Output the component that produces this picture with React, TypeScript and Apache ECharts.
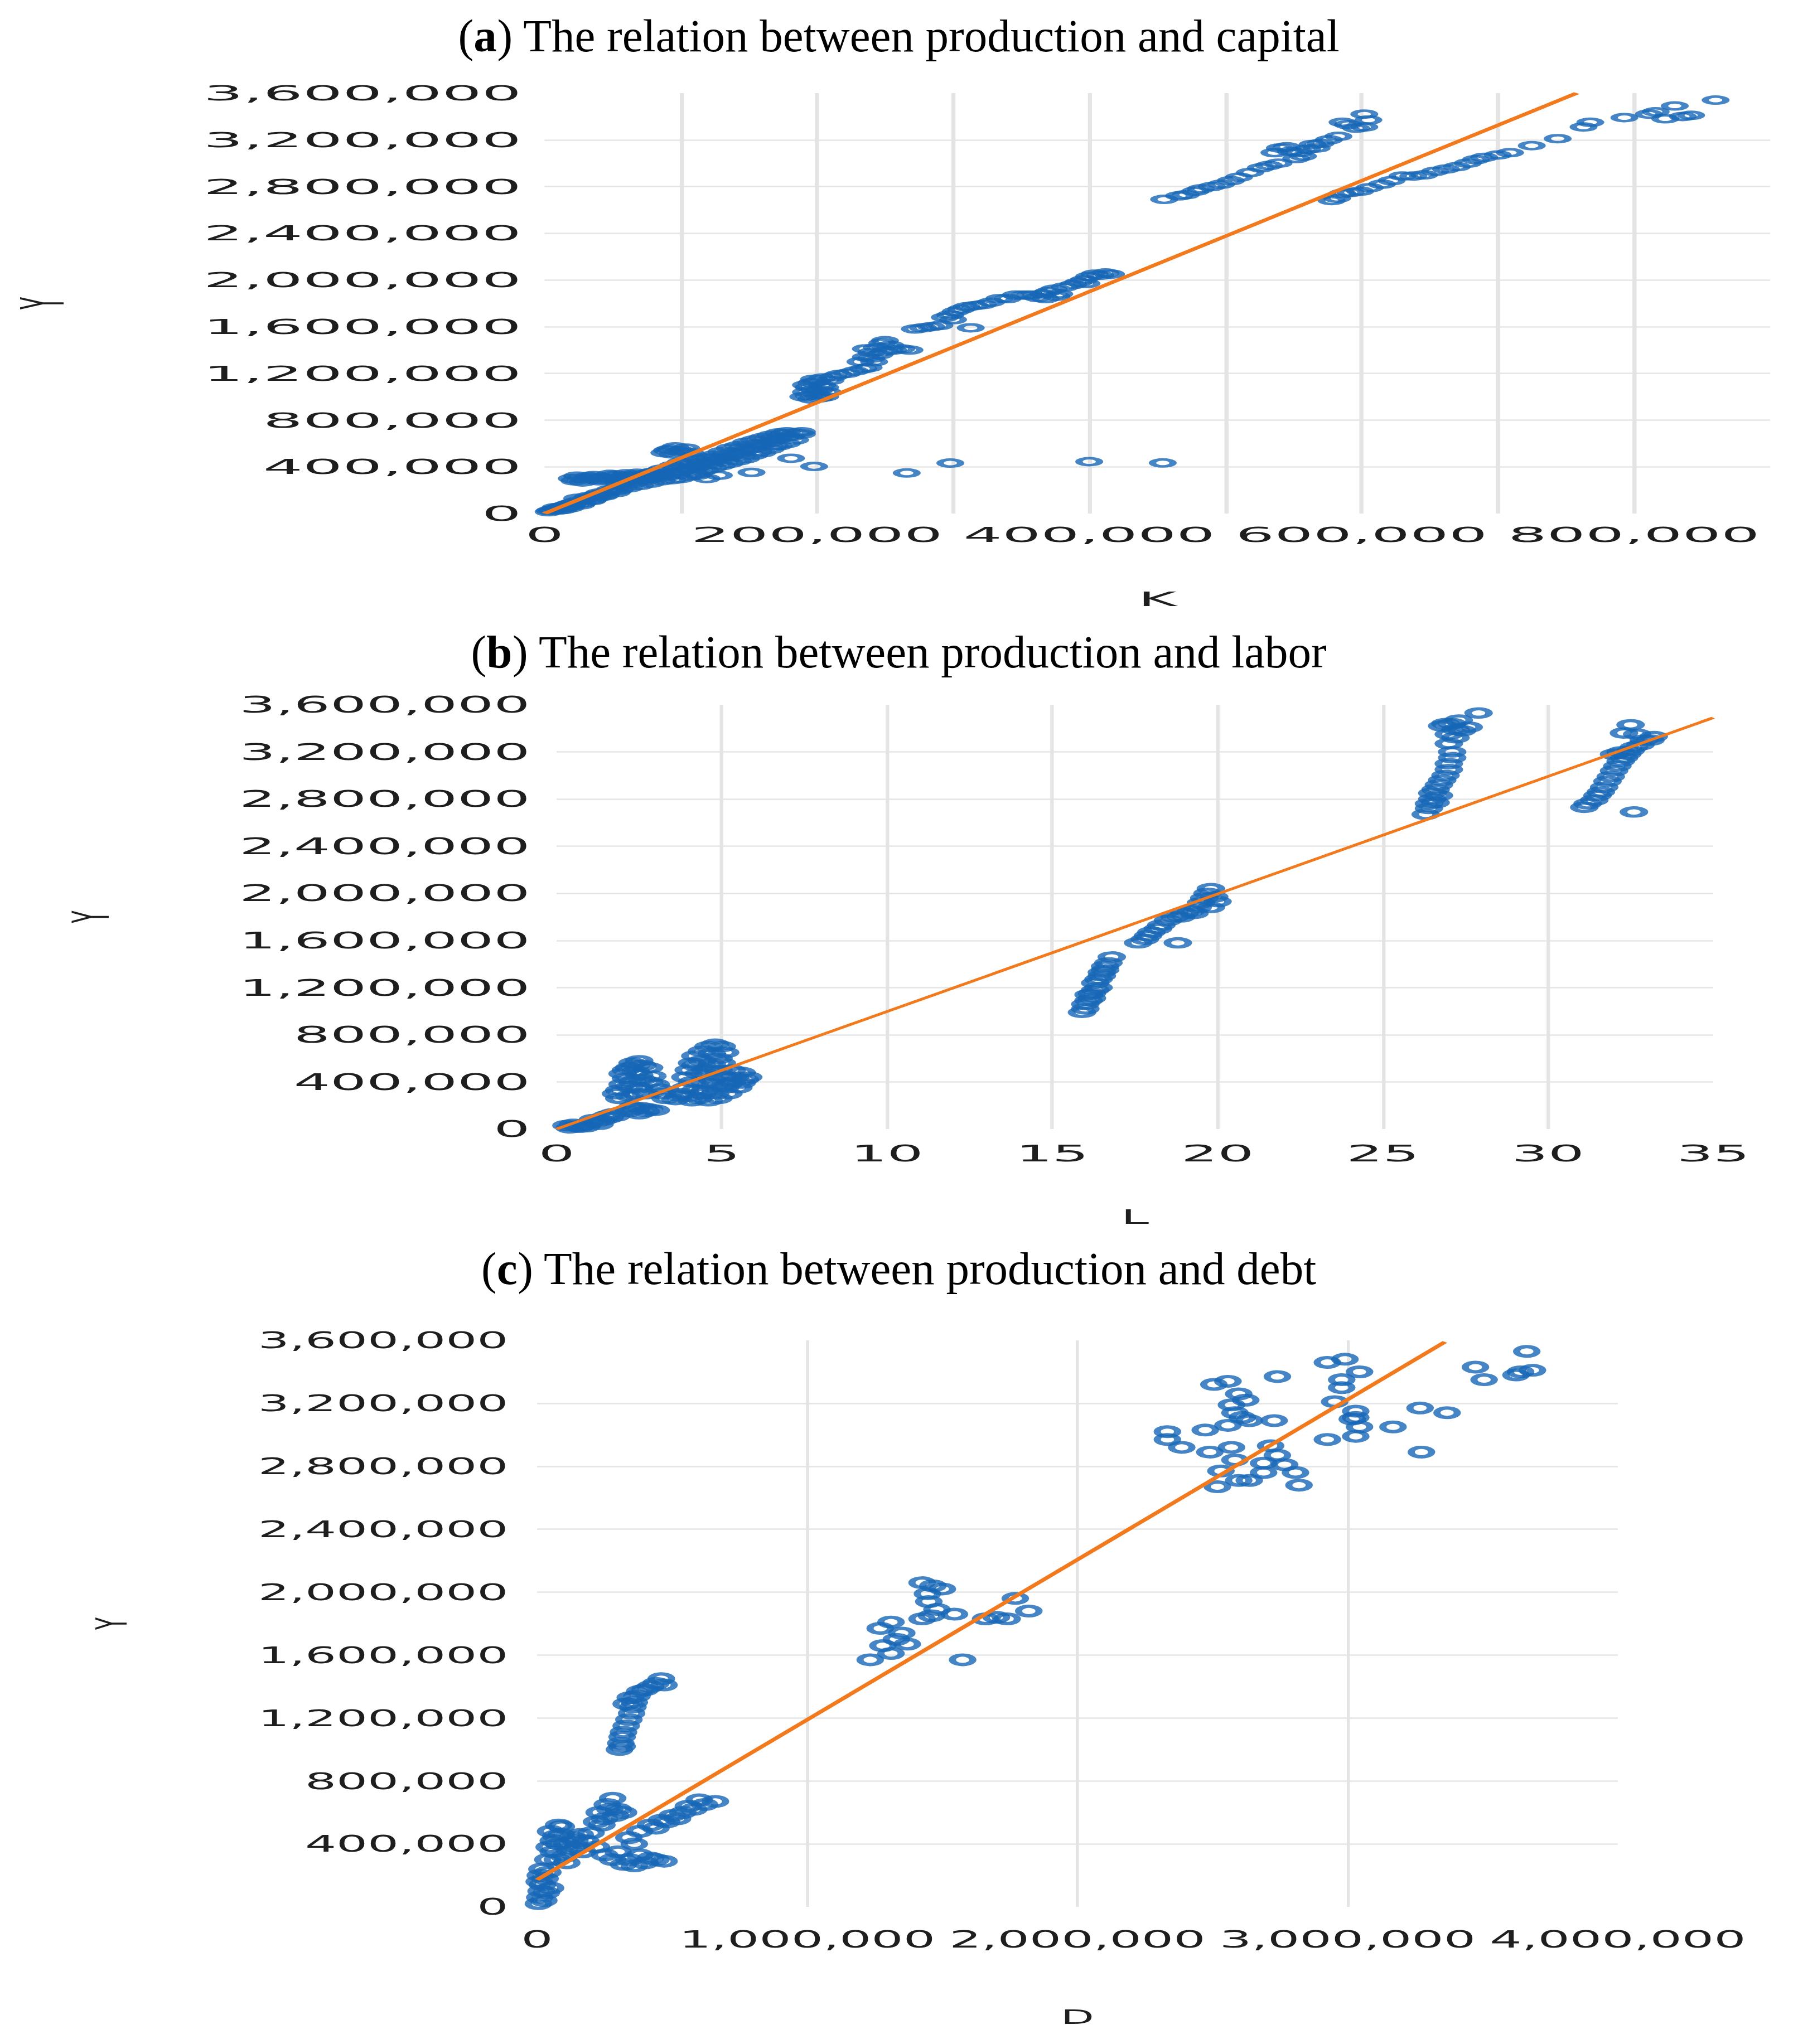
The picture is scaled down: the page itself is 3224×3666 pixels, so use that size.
import { useEffect, useRef } from 'react'
import * as echarts from 'echarts'

// Three scatter panels (production vs capital / labor / debt) with a linear trend line.
// The source figure is a horizontally stretched Excel export, so every panel is drawn
// in its own chart and stretched with scaleX; titles stay unstretched.

const PAGE_W = 3224
const PAGE_H = 3666

const BLUE = '#1766b7'
const ORANGE = '#f27a1c'
const GRID = '#e4e4e4'
const LABEL = '#1e1e1e'
const SANS = 'DejaVu Sans'
const SERIF = 'Liberation Serif'

// ---------- panel titles ----------
const titleTags = ['a', 'b', 'c']
const titleTexts = [
  'The relation between production and capital',
  'The relation between production and labor',
  'The relation between production and debt',
]
const axisNamesX = ['K', 'L', 'D']

// ---------- axis ranges ----------
const yMax = 3600000
const yStep = 400000
const kMax = 900000
const kStep = 100000
const lMax = 35
const lStep = 5
const dMax = 4000000
const dStep = 1000000

// ---------- (a) Y vs K ----------
const capitalPoints: number[][] = [
  // low diagonal start
  [3000, 15000], [6000, 30000], [9000, 40000], [12000, 55000], [15000, 60000], [18000, 80000],
  [22000, 95000], [26000, 110000], [30000, 125000], [34000, 140000], [38000, 160000], [42000, 170000],
  [46000, 185000], [50000, 195000], [8000, 50000], [14000, 35000], [20000, 65000], [28000, 90000],
  [36000, 120000], [44000, 150000], [24000, 130000], [4000, 25000], [10000, 45000], [16000, 70000],
  [21000, 85000], [32000, 145000], [40000, 175000], [48000, 205000], [52000, 215000], [45000, 160000],
  [35000, 110000], [27000, 75000], [19000, 50000], [11000, 30000], [39000, 140000], [53000, 180000],
  // flat band near 300,000
  [22000, 280000], [26000, 300000], [30000, 290000], [34000, 305000], [38000, 295000], [42000, 310000],
  [46000, 300000], [50000, 315000], [54000, 305000], [58000, 320000], [62000, 310000], [66000, 325000],
  [70000, 320000], [75000, 335000], [80000, 330000], [85000, 340000], [90000, 345000], [28000, 270000],
  [40000, 280000], [55000, 285000], [65000, 295000], [72000, 300000], [24000, 320000], [36000, 325000],
  [48000, 335000], [60000, 340000], [32000, 315000], [44000, 290000], [52000, 330000], [68000, 345000],
  [78000, 310000], [84000, 320000], [20000, 300000], [57000, 300000],
  // main diagonal band
  [55000, 200000], [55000, 250000], [55000, 290000], [62000, 220000], [62000, 270000], [62000, 310000],
  [70000, 240000], [70000, 290000], [70000, 330000], [78000, 260000], [78000, 310000], [78000, 350000],
  [86000, 280000], [86000, 330000], [86000, 380000], [94000, 290000], [94000, 350000], [94000, 410000],
  [100000, 300000], [100000, 360000], [100000, 420000], [100000, 440000], [106000, 320000], [106000, 380000],
  [106000, 440000], [112000, 340000], [112000, 400000], [112000, 460000], [118000, 370000], [118000, 420000],
  [118000, 480000], [124000, 390000], [124000, 450000], [124000, 500000], [130000, 410000], [130000, 470000],
  [130000, 530000], [136000, 430000], [136000, 490000], [136000, 560000], [142000, 450000], [142000, 510000],
  [142000, 580000], [148000, 470000], [148000, 540000], [148000, 610000], [154000, 500000], [154000, 560000],
  [154000, 630000], [160000, 520000], [160000, 590000], [160000, 650000], [166000, 550000], [166000, 610000],
  [166000, 670000], [172000, 580000], [172000, 640000], [172000, 690000], [178000, 600000], [178000, 660000],
  [178000, 700000], [184000, 630000], [184000, 690000], [189000, 680000], [189000, 700000],
  [58000, 230000], [66000, 260000], [74000, 280000], [82000, 300000], [90000, 320000], [97000, 330000],
  [103000, 390000], [109000, 420000], [115000, 440000], [121000, 470000], [127000, 480000], [133000, 510000],
  [139000, 530000], [145000, 560000], [151000, 590000], [157000, 600000], [163000, 630000], [169000, 650000],
  [175000, 680000], [181000, 660000], [66000, 300000], [82000, 360000], [97000, 390000], [109000, 360000],
  [121000, 410000], [133000, 450000], [145000, 490000], [157000, 530000], [169000, 580000],
  // small upper blob
  [88000, 520000], [92000, 550000], [96000, 570000], [100000, 540000], [104000, 560000], [107000, 520000],
  [94000, 510000], [90000, 540000], [98000, 530000],
  // low outliers
  [112000, 327000], [128000, 327000], [119000, 300000], [152000, 352000], [181000, 473000], [198000, 403000],
  [266000, 347000], [298000, 432000], [400000, 444000], [454000, 433000],
  // cluster around 200,000
  [190000, 1000000], [192000, 1040000], [194000, 1080000], [196000, 1120000], [198000, 1150000],
  [200000, 1020000], [202000, 1060000], [204000, 1100000], [206000, 1000000], [208000, 1040000],
  [210000, 1140000], [212000, 1170000], [196000, 980000], [204000, 1160000], [192000, 1100000],
  [198000, 1060000], [200000, 1130000], [194000, 1010000], [202000, 990000], [206000, 1080000],
  [216000, 1190000], [222000, 1200000], [228000, 1220000], [234000, 1240000], [238000, 1250000],
  [232000, 1300000], [236000, 1340000], [240000, 1380000], [244000, 1420000], [248000, 1460000],
  [250000, 1480000], [254000, 1440000], [246000, 1360000], [240000, 1330000], [256000, 1400000],
  [262000, 1410000], [268000, 1400000], [242000, 1300000], [250000, 1390000], [236000, 1410000],
  [272000, 1580000], [278000, 1590000], [284000, 1600000], [290000, 1610000], [313000, 1590000],
  [294000, 1680000], [298000, 1700000], [302000, 1730000], [306000, 1750000], [310000, 1770000],
  [300000, 1660000], [316000, 1780000], [322000, 1790000], [328000, 1810000], [334000, 1840000],
  [340000, 1840000], [346000, 1870000], [352000, 1870000], [357000, 1870000],
  [362000, 1850000], [366000, 1880000], [370000, 1900000], [374000, 1920000], [378000, 1880000],
  [382000, 1940000], [368000, 1840000], [376000, 1860000],
  [388000, 1960000], [392000, 1980000], [396000, 2000000], [400000, 2030000], [404000, 2050000],
  [408000, 2040000], [412000, 2060000], [416000, 2050000], [398000, 1970000],
  // upper cluster, steep branch
  [455000, 2690000], [466000, 2720000], [471000, 2730000], [478000, 2760000], [482000, 2780000],
  [490000, 2800000], [497000, 2820000], [504000, 2850000], [510000, 2880000], [518000, 2920000],
  [526000, 2960000], [532000, 2980000], [539000, 3000000], [545000, 3140000], [548000, 3100000],
  [552000, 3040000], [554000, 3090000], [557000, 3060000], [560000, 3120000], [564000, 3160000],
  [567000, 3130000], [570000, 3170000], [576000, 3200000], [583000, 3230000], [586000, 3350000],
  [590000, 3330000], [596000, 3300000], [602000, 3310000], [602000, 3420000], [605000, 3370000],
  [540000, 3130000], [536000, 3090000],
  // upper cluster, flat branch
  [578000, 2680000], [582000, 2700000], [586000, 2740000], [592000, 2750000], [599000, 2760000],
  [606000, 2790000], [615000, 2820000], [622000, 2850000], [630000, 2890000], [638000, 2890000],
  [646000, 2900000], [654000, 2930000], [662000, 2950000], [670000, 2970000], [678000, 3000000],
  [684000, 3030000], [690000, 3050000], [700000, 3070000], [709000, 3090000], [725000, 3150000],
  [744000, 3210000], [763000, 3310000], [768000, 3350000], [793000, 3390000], [811000, 3420000],
  [816000, 3440000], [823000, 3380000], [830000, 3490000], [836000, 3400000], [842000, 3410000],
  [860000, 3540000],
]
const capitalTrend: number[][] = [[0, 0], [758000, 3600000]]

// ---------- (b) Y vs L ----------
const laborPoints: number[][] = [
  [0.4, 10000], [0.6, 25000], [0.8, 35000], [1.0, 50000], [1.2, 60000], [1.4, 75000], [1.6, 95000],
  [1.8, 110000], [0.5, 40000], [0.9, 20000], [1.3, 40000], [1.7, 130000], [0.7, 15000], [1.1, 80000],
  [1.5, 110000], [0.3, 30000],
  [2.2, 150000], [2.4, 170000], [2.6, 180000], [2.8, 170000], [3.0, 160000], [2.5, 130000], [2.3, 190000],
  [2.7, 150000],
  [1.9, 330000], [2.0, 380000], [2.1, 430000], [2.0, 470000], [2.2, 520000], [2.3, 560000], [2.5, 580000],
  [2.6, 540000], [2.4, 490000], [2.3, 400000], [2.5, 350000], [2.7, 300000], [2.9, 450000], [3.0, 380000],
  [3.2, 300000], [2.2, 280000], [2.8, 520000], [1.8, 300000], [2.6, 420000], [3.1, 340000], [2.1, 500000],
  [2.4, 540000], [2.2, 360000], [2.8, 400000], [2.5, 460000], [1.9, 260000], [2.4, 300000], [3.3, 260000],
  [3.8, 300000], [3.9, 440000], [4.0, 500000], [4.1, 560000], [4.2, 620000], [4.4, 660000], [4.6, 700000],
  [4.8, 720000], [5.0, 700000], [5.1, 650000], [4.9, 600000], [4.7, 550000], [4.5, 500000], [4.3, 470000],
  [4.1, 400000], [3.9, 350000], [4.0, 280000], [4.3, 260000], [4.6, 240000], [4.9, 260000], [5.2, 300000],
  [5.5, 350000], [5.7, 420000], [5.6, 480000], [5.3, 500000], [5.0, 450000], [4.8, 380000], [4.5, 330000],
  [5.3, 400000], [5.8, 440000], [4.4, 300000], [5.1, 350000], [4.7, 420000], [3.6, 250000], [5.0, 560000],
  [4.4, 580000], [4.7, 640000], [4.2, 540000], [4.6, 460000], [4.2, 330000], [4.8, 300000], [5.4, 440000],
  [5.2, 380000], [4.9, 500000], [4.5, 390000], [3.7, 280000], [4.1, 240000], [5.6, 390000],
  [15.9, 990000], [16.0, 1020000], [16.0, 1060000], [16.1, 1090000], [16.2, 1110000], [16.2, 1150000],
  [16.3, 1180000], [16.4, 1200000], [16.3, 1240000], [16.4, 1270000], [16.5, 1300000], [16.5, 1330000],
  [16.6, 1350000], [16.6, 1380000], [16.7, 1410000], [16.8, 1460000], [16.1, 1140000],
  [17.6, 1580000], [17.8, 1610000], [17.9, 1640000], [18.0, 1670000], [18.2, 1700000], [18.3, 1730000],
  [18.5, 1770000], [18.7, 1800000], [19.0, 1830000], [19.2, 1850000], [19.4, 1880000], [19.5, 1920000],
  [19.6, 1960000], [19.7, 2000000], [19.8, 2040000], [19.9, 1970000], [19.8, 1880000], [19.3, 1830000],
  [18.9, 1800000], [18.8, 1580000], [20.0, 1930000],
  [26.3, 2670000], [26.4, 2720000], [26.4, 2760000], [26.5, 2800000], [26.5, 2850000], [26.6, 2880000],
  [26.7, 2920000], [26.8, 2960000], [26.9, 3000000], [27.0, 3050000], [27.0, 3100000], [27.1, 3150000],
  [27.1, 3200000], [27.0, 3270000], [27.2, 3320000], [27.0, 3350000], [26.8, 3420000], [26.9, 3440000],
  [27.1, 3440000], [27.3, 3470000], [27.2, 3390000], [27.4, 3380000], [27.6, 3410000], [27.9, 3530000],
  [26.6, 2770000], [26.7, 2830000],
  [31.1, 2730000], [31.2, 2760000], [31.4, 2790000], [31.5, 2830000], [31.6, 2860000], [31.7, 2900000],
  [31.8, 2950000], [31.9, 2990000], [32.0, 3040000], [32.1, 3080000], [32.2, 3120000], [32.3, 3150000],
  [32.4, 3180000], [32.5, 3210000], [32.6, 3240000], [32.8, 3260000], [32.9, 3300000], [33.1, 3300000],
  [33.2, 3330000], [32.7, 3350000], [32.5, 3430000], [32.3, 3360000], [32.6, 2690000], [32.0, 3180000],
  [32.2, 3200000],
]
const laborTrend: number[][] = [[0, 0], [35, 3490000]]

// ---------- (c) Y vs D ----------
const debtPoints: number[][] = [
  [5000, 20000], [10000, 60000], [15000, 100000], [20000, 140000], [30000, 180000], [40000, 220000],
  [25000, 40000], [50000, 120000], [8000, 160000], [12000, 200000], [35000, 90000], [18000, 240000],
  [40000, 300000], [60000, 350000], [80000, 400000], [70000, 450000], [50000, 480000], [90000, 510000],
  [100000, 320000], [120000, 360000], [140000, 420000], [160000, 460000], [110000, 280000],
  [60000, 420000], [90000, 460000], [130000, 440000], [150000, 380000], [180000, 420000], [45000, 380000],
  [75000, 300000], [110000, 400000], [200000, 470000], [170000, 350000], [80000, 520000],
  [230000, 600000], [260000, 650000], [280000, 690000], [250000, 560000], [300000, 620000], [320000, 600000],
  [270000, 620000], [240000, 520000], [290000, 580000], [220000, 540000],
  [280000, 300000], [320000, 270000], [360000, 260000], [400000, 280000], [440000, 300000], [470000, 290000],
  [380000, 330000], [300000, 350000], [340000, 300000], [420000, 310000], [250000, 330000], [220000, 380000],
  [380000, 480000], [420000, 520000], [460000, 550000], [500000, 580000], [540000, 600000], [580000, 620000],
  [620000, 650000], [660000, 670000], [600000, 680000], [560000, 640000], [520000, 560000], [340000, 440000],
  [440000, 500000], [480000, 540000], [360000, 400000],
  [305000, 1000000], [310000, 1040000], [315000, 1080000], [320000, 1110000], [330000, 1150000],
  [340000, 1190000], [350000, 1230000], [355000, 1270000], [360000, 1300000], [370000, 1340000],
  [380000, 1370000], [400000, 1380000], [420000, 1400000], [440000, 1420000], [460000, 1450000],
  [470000, 1410000], [330000, 1290000], [345000, 1330000], [315000, 1020000],
  [1233000, 1570000], [1310000, 1610000], [1280000, 1660000], [1350000, 1740000], [1270000, 1770000],
  [1310000, 1810000], [1370000, 1670000], [1575000, 1570000], [1425000, 1830000], [1460000, 1850000],
  [1425000, 2060000], [1465000, 2040000], [1500000, 2020000], [1450000, 1940000], [1480000, 1890000],
  [1545000, 1860000], [1660000, 1830000], [1740000, 1830000], [1770000, 1960000], [1820000, 1880000],
  [1700000, 1840000], [1445000, 1990000], [1330000, 1700000],
  [2333000, 3020000], [2333000, 2970000], [2386000, 2920000], [2473000, 3030000], [2490000, 2890000],
  [2505000, 3320000], [2557000, 3340000], [2570000, 3190000], [2597000, 3260000], [2623000, 3220000],
  [2583000, 3140000], [2557000, 3060000], [2610000, 3110000], [2636000, 3090000], [2728000, 3090000],
  [2740000, 3370000], [2570000, 2920000], [2583000, 2840000], [2531000, 2770000], [2689000, 2760000],
  [2715000, 2930000], [2740000, 2870000], [2767000, 2810000], [2807000, 2760000], [2820000, 2680000],
  [2518000, 2670000], [2597000, 2710000], [2636000, 2710000], [2689000, 2820000],
  [2925000, 3460000], [2990000, 3480000], [2978000, 3350000], [2978000, 3300000], [2952000, 3210000],
  [3044000, 3400000], [3030000, 3150000], [3030000, 3110000], [3017000, 3100000], [3044000, 3050000],
  [3030000, 2990000], [2925000, 2970000], [3168000, 3050000], [3268000, 3170000], [3368000, 3140000],
  [3273000, 2890000], [3473000, 3430000], [3505000, 3350000], [3623000, 3380000], [3640000, 3400000],
  [3684000, 3410000], [3663000, 3530000],
]
const debtTrend: number[][] = [[0, 172000], [3360000, 3590000]]

const fmt = (v: number) => v.toLocaleString('en-US')

interface PanelSpec {
  top: number
  height: number
  stretch: number
  gridLeft: number // page px
  gridRight: number // page px
  gridTop: number // inside the panel div
  gridHeight: number
  xMax: number
  xStep: number
  xFormatter: (v: number) => string
  xLabelSize: number
  yLabelSize: number
  xLabelMargin: number
  yLabelMargin: number
  xName: string
  xNameGap: number
  yNameGap: number
  points: number[][]
  trend: number[][]
  symbolSize: number
  ringWidth: number
  trendWidth: number
}

const panels: PanelSpec[] = [
  {
    top: 110, height: 1000, stretch: 2.95,
    gridLeft: 951, gridRight: 3174, gridTop: 57, gridHeight: 754,
    xMax: kMax, xStep: kStep,
    xFormatter: (v) => (v % 200000 === 0 && v < kMax ? fmt(v) : ''),
    xLabelSize: 37, yLabelSize: 38, xLabelMargin: 20, yLabelMargin: 14,
    xName: axisNamesX[0], xNameGap: 136, yNameGap: 287,
    points: capitalPoints, trend: capitalTrend, symbolSize: 12.5, ringWidth: 4.5, trendWidth: 4.5,
  },
  {
    top: 1210, height: 1010, stretch: 2.5,
    gridLeft: 998, gridRight: 3072, gridTop: 54, gridHeight: 761,
    xMax: lMax, xStep: lStep,
    xFormatter: (v) => fmt(v),
    xLabelSize: 41, yLabelSize: 41, xLabelMargin: 23, yLabelMargin: 19,
    xName: axisNamesX[1], xNameGap: 139, yNameGap: 316,
    points: laborPoints, trend: laborTrend, symbolSize: 15, ringWidth: 5.5, trendWidth: 4,
  },
  {
    top: 2350, height: 1316, stretch: 2.15,
    gridLeft: 963, gridRight: 2901, gridTop: 54, gridHeight: 1016,
    xMax: dMax, xStep: dStep,
    xFormatter: (v) => fmt(v),
    xLabelSize: 42, yLabelSize: 41, xLabelMargin: 38, yLabelMargin: 24,
    xName: axisNamesX[2], xNameGap: 179, yNameGap: 337,
    points: debtPoints, trend: debtTrend, symbolSize: 17, ringWidth: 6, trendWidth: 5,
  },
]

function buildPanelOption(p: PanelSpec): echarts.EChartsOption {
  const splitLine = {
    show: true,
    showMinLine: false,
    showMaxLine: false,
    lineStyle: { color: GRID, width: 2.5 },
  }
  const nameStyle = { fontFamily: SANS, fontSize: 36, color: LABEL }
  return {
    animation: false,
    grid: {
      left: p.gridLeft / p.stretch,
      width: (p.gridRight - p.gridLeft) / p.stretch,
      top: p.gridTop,
      height: p.gridHeight,
      containLabel: false,
    },
    xAxis: {
      type: 'value',
      min: 0,
      max: p.xMax,
      interval: p.xStep,
      name: p.xName,
      nameLocation: 'middle',
      nameGap: p.xNameGap,
      nameTextStyle: nameStyle,
      axisLine: { show: false },
      axisTick: { show: false },
      axisLabel: {
        color: LABEL,
        fontFamily: SANS,
        fontSize: p.xLabelSize,
        margin: p.xLabelMargin,
        formatter: p.xFormatter,
        showMaxLabel: true,
      },
      splitLine,
    },
    yAxis: {
      type: 'value',
      min: 0,
      max: yMax,
      interval: yStep,
      name: 'Y',
      nameLocation: 'middle',
      nameGap: p.yNameGap,
      nameTextStyle: nameStyle,
      axisLine: { show: false },
      axisTick: { show: false },
      axisLabel: {
        color: LABEL,
        fontFamily: SANS,
        fontSize: p.yLabelSize,
        margin: p.yLabelMargin,
        formatter: (v: number) => fmt(v),
      },
      splitLine,
    },
    series: [
      {
        type: 'scatter',
        data: p.points,
        symbol: 'circle',
        symbolSize: p.symbolSize,
        itemStyle: {
          color: 'rgba(0,0,0,0)',
          borderColor: BLUE,
          borderWidth: p.ringWidth,
        },
        z: 2,
      },
      {
        type: 'line',
        data: p.trend,
        showSymbol: false,
        symbol: 'none',
        clip: true,
        lineStyle: { color: ORANGE, width: p.trendWidth },
        z: 3,
      },
    ],
  }
}

function Panel({ spec }: { spec: PanelSpec }) {
  const ref = useRef<HTMLDivElement>(null)
  useEffect(() => {
    if (!ref.current) return
    const chart = echarts.init(ref.current, undefined, { renderer: 'svg' })
    chart.setOption(buildPanelOption(spec))
    return () => chart.dispose()
  }, [spec])
  return (
    <div
      ref={ref}
      style={{
        position: 'absolute',
        left: 0,
        top: spec.top,
        width: PAGE_W / spec.stretch,
        height: spec.height,
        transform: `scaleX(${spec.stretch})`,
        transformOrigin: '0 0',
      }}
    />
  )
}

const titleCenters = [59, 1164, 2270]

function Titles() {
  const ref = useRef<HTMLDivElement>(null)
  useEffect(() => {
    if (!ref.current) return
    const chart = echarts.init(ref.current, undefined, { renderer: 'svg' })
    chart.setOption({
      animation: false,
      title: titleTexts.map((t, i) => ({
        text: `({b|${titleTags[i]}}) ${t}`,
        left: 'center',
        top: titleCenters[i] - 48,
        textStyle: {
          fontFamily: SERIF,
          fontSize: 83,
          fontWeight: 'normal',
          color: '#000',
          lineHeight: 96,
          rich: {
            b: { fontFamily: SERIF, fontSize: 83, fontWeight: 'bold', color: '#000', lineHeight: 96 },
          },
        },
      })),
    })
    return () => chart.dispose()
  }, [])
  return <div ref={ref} style={{ position: 'absolute', left: 0, top: 0, width: PAGE_W, height: PAGE_H }} />
}

export default function App() {
  return (
    <div
      style={{
        position: 'absolute',
        left: 0,
        top: 0,
        width: PAGE_W,
        height: PAGE_H,
        background: '#fff',
        overflow: 'hidden',
      }}
    >
      <Titles />
      {panels.map((p, i) => (
        <Panel key={i} spec={p} />
      ))}
    </div>
  )
}
